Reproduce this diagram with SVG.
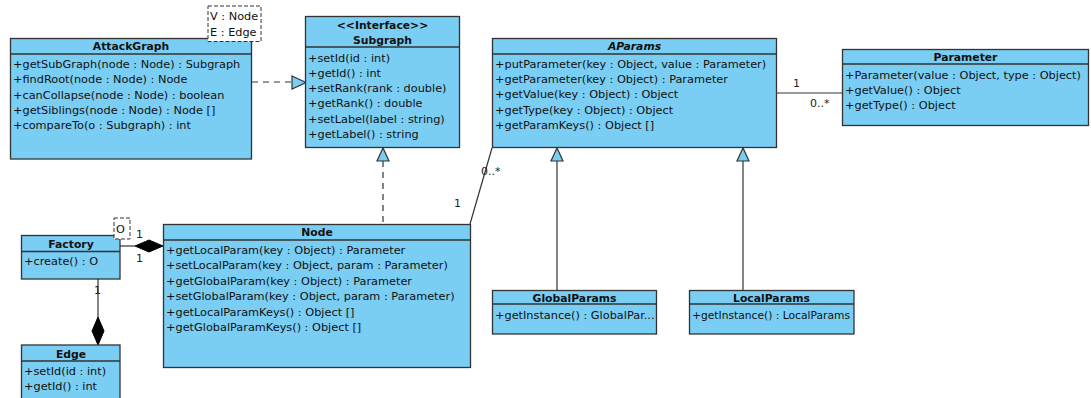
<svg xmlns="http://www.w3.org/2000/svg" width="1091" height="398" viewBox="0 0 1091 398">
<style>
.box{fill:#7ACDF3;stroke:#333;stroke-width:1.3}
.sep{stroke:#333;stroke-width:1.3}
.t{font-family:"DejaVu Sans",sans-serif;font-size:11.3px;fill:#111}
.h{font-family:"DejaVu Sans",sans-serif;font-size:10.8px;font-weight:bold;fill:#111;text-anchor:middle}
.lbl{font-family:"DejaVu Sans",sans-serif;font-size:11px;fill:#222}
.tmpl{fill:#fff;stroke:#333;stroke-width:1;stroke-dasharray:4,2}
.ln{fill:none;stroke:#333;stroke-width:1.2}
.dash{fill:none;stroke:#333;stroke-width:1.2;stroke-dasharray:6,5}
.tri{fill:#7ACDF3;stroke:#333;stroke-width:1.2}
.dia{fill:#000;stroke:#000;stroke-width:1}
</style>
<rect width="1091" height="398" fill="#fff"/>
<g id="connectors">
<line class="dash" x1="252" y1="82" x2="292" y2="82"/>
<polygon class="tri" points="292,76 306,82.5 292,89"/>
<line class="dash" x1="383" y1="161" x2="383" y2="224"/>
<polygon class="tri" points="383,148 377,161 389,161"/>
<line class="ln" x1="492" y1="148" x2="470" y2="224"/>
<text class="lbl" x="481" y="175">0..*</text>
<text class="lbl" x="454" y="207">1</text>
<line class="ln" x1="777" y1="93" x2="842" y2="93"/>
<text class="lbl" x="793" y="87">1</text>
<text class="lbl" x="810" y="107">0..*</text>
<line class="ln" x1="557" y1="161" x2="557" y2="291"/>
<polygon class="tri" points="557,148 551,161 563,161"/>
<line class="ln" x1="743" y1="161" x2="743" y2="291"/>
<polygon class="tri" points="743,148 737,161 749,161"/>
<line class="ln" x1="120" y1="246" x2="135" y2="246"/>
<polygon class="dia" points="135,246 149,240 163,246 149,252"/>
<text class="lbl" x="136" y="238">1</text>
<text class="lbl" x="136" y="262">1</text>
<line class="ln" x1="98" y1="279" x2="98" y2="317"/>
<polygon class="dia" points="98,317 104,331 98,345 92,331"/>
<text class="lbl" x="94" y="294">1</text>
</g>
<g id="AttackGraph">
<rect class="box" x="10.5" y="38.5" width="241" height="120.5"/>
<line class="sep" x1="10.5" y1="54" x2="251.5" y2="54"/>
<text class="h" x="131" y="50">AttackGraph</text>
<text class="t" x="13" y="67.5">+getSubGraph(node : Node) : Subgraph</text>
<text class="t" x="13" y="83">+findRoot(node : Node) : Node</text>
<text class="t" x="13" y="98.5">+canCollapse(node : Node) : boolean</text>
<text class="t" x="13" y="114">+getSiblings(node : Node) : Node []</text>
<text class="t" x="13" y="129">+compareTo(o : Subgraph) : int</text>
<rect class="tmpl" x="208" y="6" width="53" height="35.5"/>
<text class="t" x="210" y="20">V : Node</text>
<text class="t" x="210" y="36">E : Edge</text>
</g>
<g id="Subgraph">
<rect class="box" x="305.5" y="16.5" width="154" height="131"/>
<line class="sep" x1="305.5" y1="47" x2="459.5" y2="47"/>
<text class="h" x="382.5" y="28.5">&lt;&lt;Interface&gt;&gt;</text>
<text class="h" x="382.5" y="43.5">Subgraph</text>
<text class="t" x="308" y="61.5">+setId(id : int)</text>
<text class="t" x="308" y="76.5">+getId() : int</text>
<text class="t" x="308" y="92">+setRank(rank : double)</text>
<text class="t" x="308" y="107">+getRank() : double</text>
<text class="t" x="308" y="122.5">+setLabel(label : string)</text>
<text class="t" x="308" y="137.5">+getLabel() : string</text>
</g>
<g id="AParams">
<rect class="box" x="492.5" y="38.5" width="284" height="109"/>
<line class="sep" x1="492.5" y1="54" x2="776.5" y2="54"/>
<text class="h" x="634.5" y="50" font-style="italic">AParams</text>
<text class="t" x="495" y="67.5">+putParameter(key : Object, value : Parameter)</text>
<text class="t" x="495" y="83">+getParameter(key : Object) : Parameter</text>
<text class="t" x="495" y="97.5">+getValue(key : Object) : Object</text>
<text class="t" x="495" y="114">+getType(key : Object) : Object</text>
<text class="t" x="495" y="129">+getParamKeys() : Object []</text>
</g>
<g id="Parameter">
<rect class="box" x="842.5" y="49.5" width="246" height="76"/>
<line class="sep" x1="842.5" y1="64" x2="1088.5" y2="64"/>
<text class="h" x="965.5" y="61">Parameter</text>
<text class="t" x="845" y="78.5">+Parameter(value : Object, type : Object)</text>
<text class="t" x="845" y="93.5">+getValue() : Object</text>
<text class="t" x="845" y="108.5">+getType() : Object</text>
</g>
<g id="Factory">
<rect class="box" x="21.5" y="235.5" width="98.5" height="43.5"/>
<line class="sep" x1="21.5" y1="251.5" x2="120" y2="251.5"/>
<text class="h" x="71" y="247.5">Factory</text>
<text class="t" x="24" y="265">+create() : O</text>
<rect class="tmpl" x="114" y="218" width="16" height="21"/>
<text class="t" x="116" y="233">O</text>
</g>
<g id="Edge">
<rect class="box" x="21.5" y="345" width="98.5" height="60"/>
<line class="sep" x1="21.5" y1="361" x2="120" y2="361"/>
<text class="h" x="71" y="357.5">Edge</text>
<text class="t" x="24" y="375">+setId(id : int)</text>
<text class="t" x="24" y="389.5">+getId() : int</text>
</g>
<g id="Node">
<rect class="box" x="163.5" y="224.5" width="307" height="143"/>
<line class="sep" x1="163.5" y1="240" x2="470.5" y2="240"/>
<text class="h" x="317" y="236">Node</text>
<text class="t" x="166" y="253.5">+getLocalParam(key : Object) : Parameter</text>
<text class="t" x="166" y="269">+setLocalParam(key : Object, param : Parameter)</text>
<text class="t" x="166" y="284.5">+getGlobalParam(key : Object) : Parameter</text>
<text class="t" x="166" y="300">+setGlobalParam(key : Object, param : Parameter)</text>
<text class="t" x="166" y="315.5">+getLocalParamKeys() : Object []</text>
<text class="t" x="166" y="331">+getGlobalParamKeys() : Object []</text>
</g>
<g id="GlobalParams">
<rect class="box" x="492.5" y="290.5" width="164" height="43.5"/>
<line class="sep" x1="492.5" y1="304" x2="656.5" y2="304"/>
<text class="h" x="574.5" y="302">GlobalParams</text>
<text class="t" x="495" y="319">+getInstance() : GlobalPar...</text>
</g>
<g id="LocalParams">
<rect class="box" x="689.5" y="290.5" width="164.5" height="43.5"/>
<line class="sep" x1="689.5" y1="304" x2="854" y2="304"/>
<text class="h" x="771.5" y="302">LocalParams</text>
<text class="t" x="692" y="319" textLength="158" lengthAdjust="spacingAndGlyphs">+getInstance() : LocalParams</text>
</g>
</svg>
